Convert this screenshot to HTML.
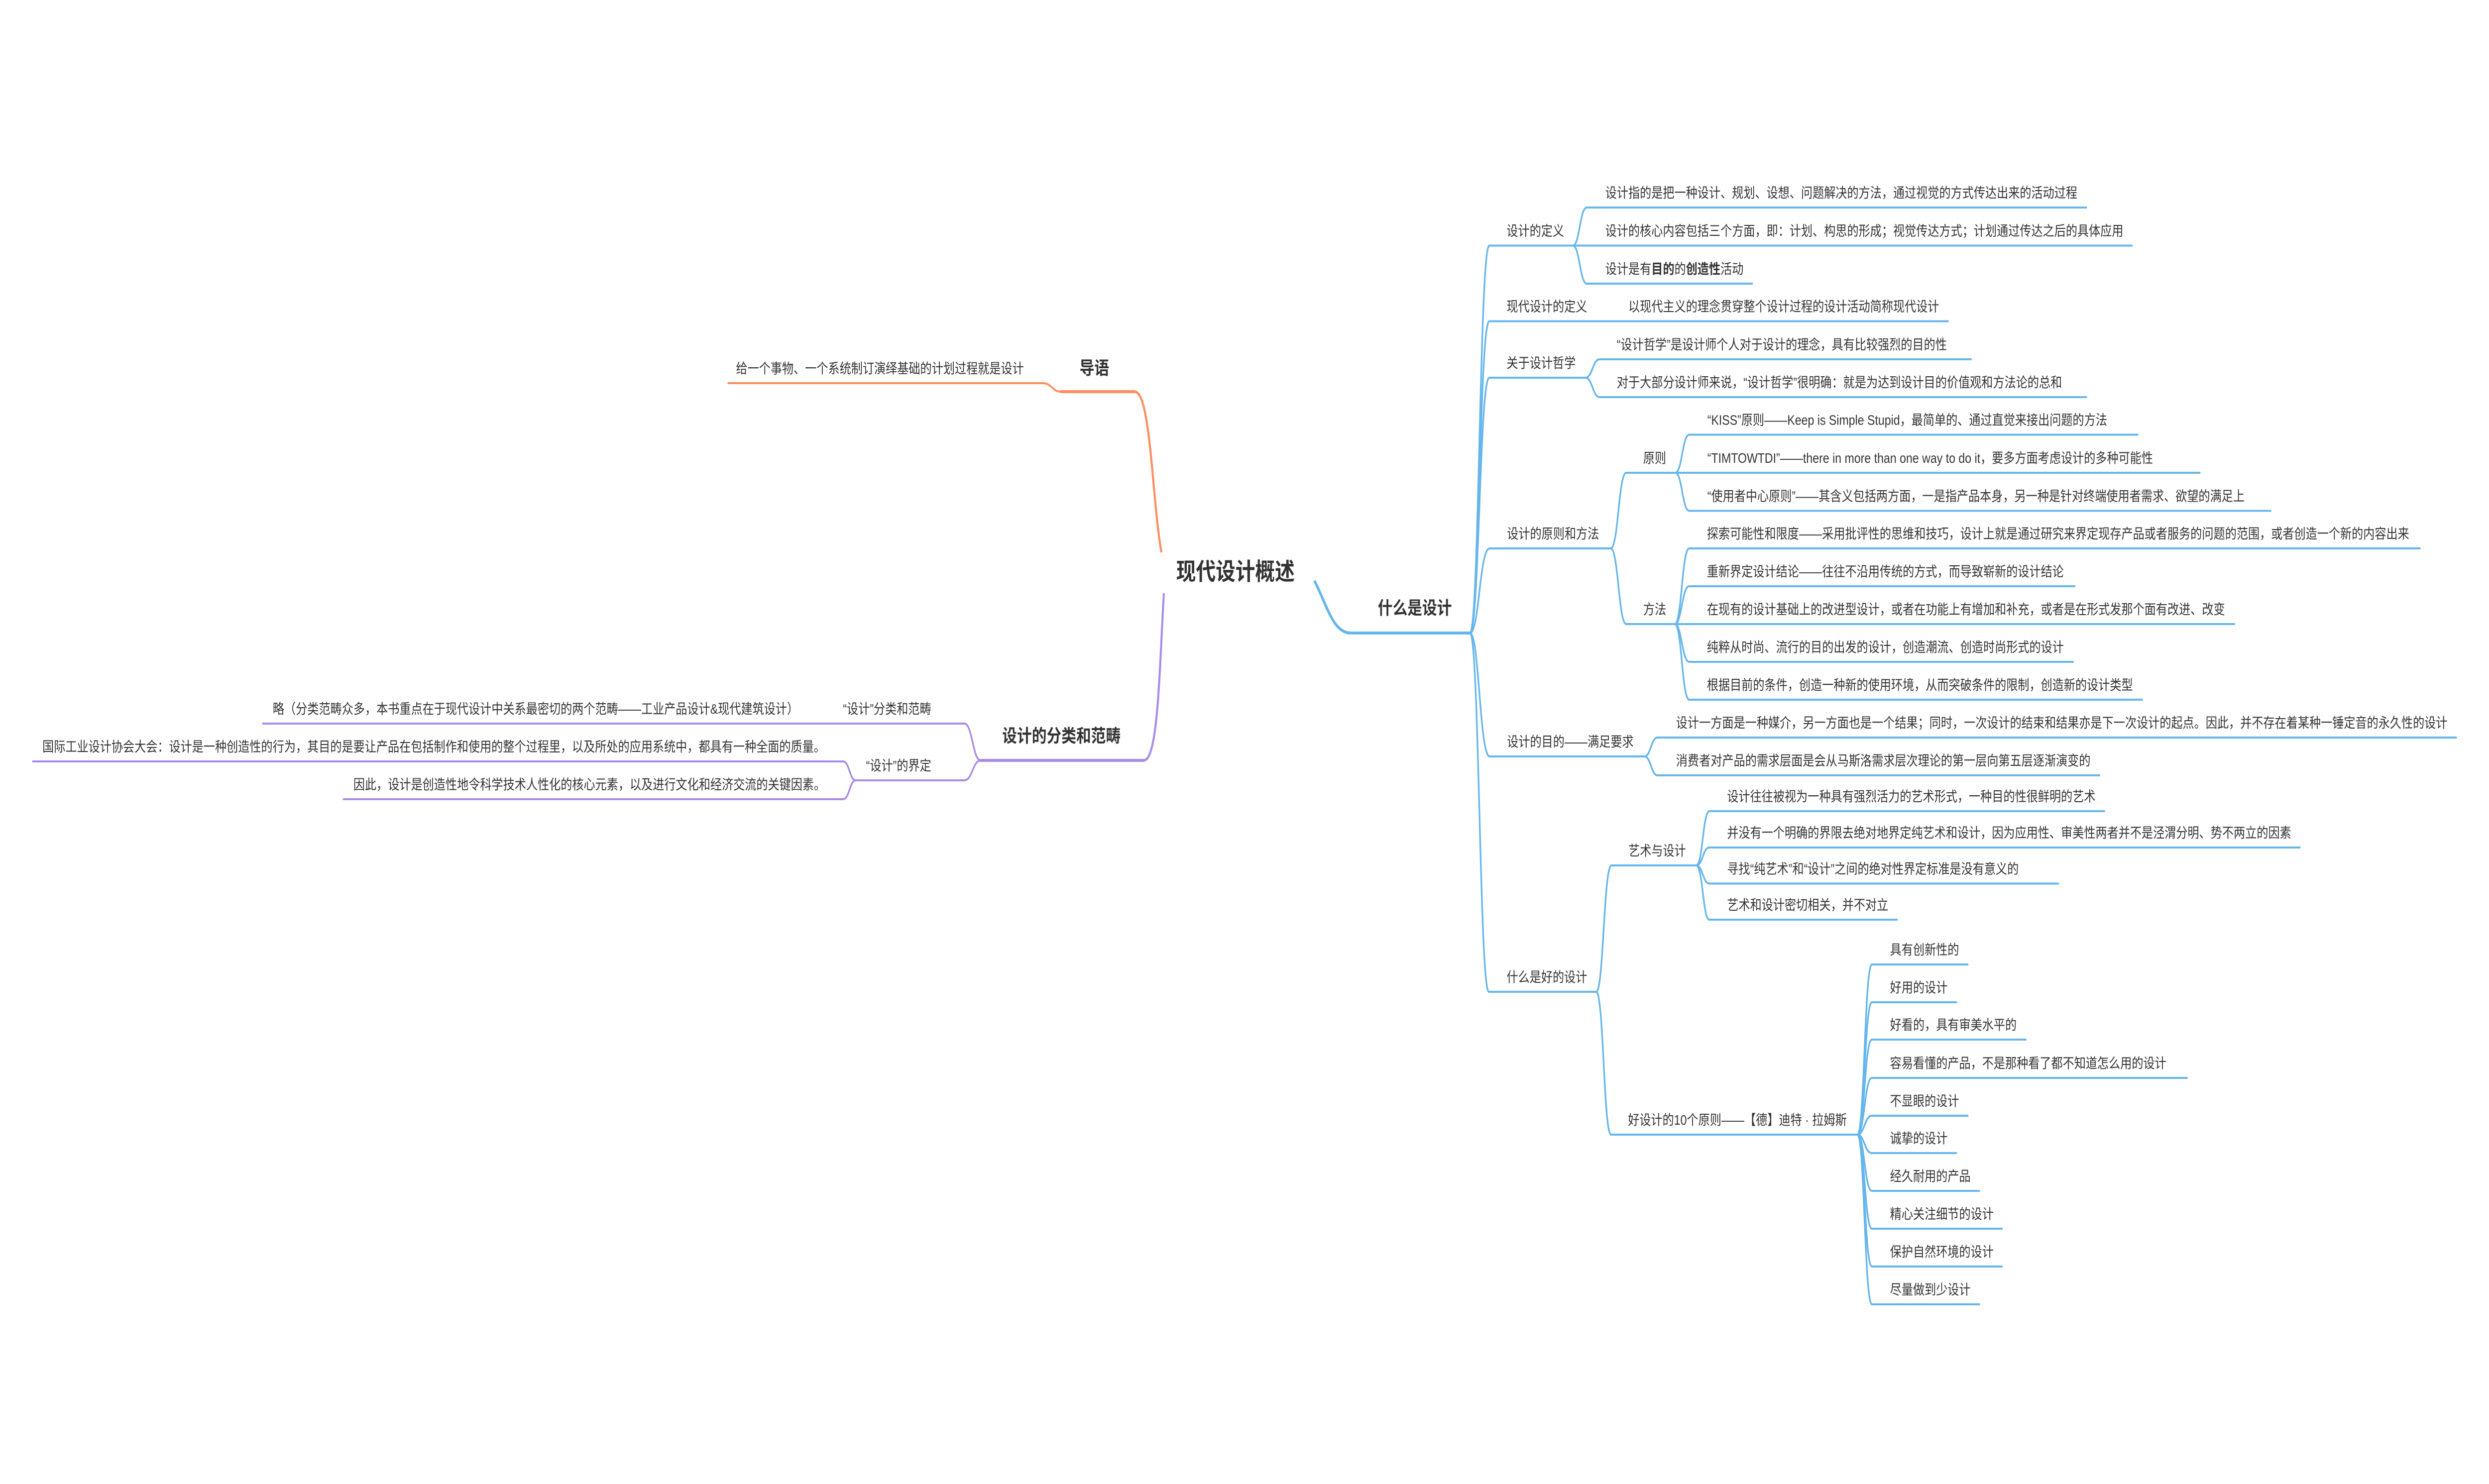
<!DOCTYPE html>
<html lang="zh"><head><meta charset="utf-8"><title>现代设计概述</title>
<style>
html,body{margin:0;padding:0;background:#fff;width:100%;height:100%;overflow:hidden;}
svg{display:block;position:absolute;left:0;top:0;width:100vw;height:100vh;}
text{font-family:"Liberation Sans","Noto Sans CJK SC",sans-serif;font-size:28px;fill:#333;}
.b{font-weight:700;font-size:36px;}
.r{font-weight:700;font-size:48px;}
tspan.s{font-weight:700;}
path{fill:none;stroke-linecap:round;stroke-width:4;}
.bl path{stroke:#66b6ec;}
.or path{stroke:#ff8c5e;}
.pu path{stroke:#a98bea;}
</style></head><body>
<svg xmlns="http://www.w3.org/2000/svg" viewBox="0 0 6050 2982" preserveAspectRatio="none">
<rect width="6050" height="2982" fill="#fff"/>

<g class="or">
<path style="stroke-width:5;stroke-linecap:butt" d="M2823 1110C2800 1000 2797 787 2758 787"/>
<path style="stroke-width:6" d="M2758 787H2579"/>
<path d="M2579 787C2557 787 2557 770 2535 770H1770"/>
</g>
<g class="pu">
<path style="stroke-width:5;stroke-linecap:butt" d="M2829 1192C2818 1350 2815 1528 2780 1528"/>
<path style="stroke-width:6" d="M2780 1528H2384"/>
<path d="M2384 1528C2364 1528 2364 1454 2344 1454H639"/>
<path d="M2384 1528C2364 1528 2364 1568 2344 1568H2080"/>
<path d="M2080 1568C2065 1568 2065 1530 2049 1530H80"/>
<path d="M2080 1568C2065 1568 2065 1606 2049 1606H835"/>
</g>
<g class="bl">
<path style="stroke-width:6;stroke-linecap:butt" d="M3195 1167C3225 1215 3240 1272 3283 1272H3573"/>
<path d="M3573 1272C3596 1272 3596 493.5 3620 493.5H3823"/>
<path d="M3573 1272C3596 1272 3596 645.5 3620 645.5H4735"/>
<path d="M3573 1272C3596 1272 3596 759 3620 759H3854"/>
<path d="M3573 1272C3596 1272 3596 1102 3621 1102H3915"/>
<path d="M3573 1272C3596 1272 3596 1520 3621 1520H3997"/>
<path d="M3573 1272C3596 1272 3596 1993 3619 1993H3880"/>

<path d="M3823 493.5C3840 493.5 3840 417 3857 417H5071"/>
<path d="M3823 493.5H5182"/>
<path d="M3823 493.5C3840 493.5 3840 570 3857 570H4259"/>

<path d="M3854 759C3871 759 3871 722 3888 722H4791"/>
<path d="M3854 759C3871 759 3871 798 3888 798H5071"/>

<path d="M3915 1102C3934 1102 3934 950 3953 950H4072"/>
<path d="M3915 1102C3934 1102 3934 1254 3953 1254H4071"/>
<path d="M4072 950C4089 950 4089 873.5 4106 873.5H5196"/>
<path d="M4072 950H5347"/>
<path d="M4072 950C4089 950 4089 1026.5 4106 1026.5H5519"/>
<path d="M4071 1254C4088 1254 4088 1102 4106 1102H5882"/>
<path d="M4071 1254C4088 1254 4088 1178 4106 1178H5043"/>
<path d="M4071 1254H5431"/>
<path d="M4071 1254C4088 1254 4088 1330 4106 1330H5039"/>
<path d="M4071 1254C4088 1254 4088 1406 4106 1406H5207"/>

<path d="M3997 1520C4013 1520 4013 1482 4029 1482H5970"/>
<path d="M3997 1520C4013 1520 4013 1558 4029 1558H5103"/>

<path d="M3880 1993C3898 1993 3898 1739 3917 1739H4123"/>
<path d="M3880 1993C3898 1993 3898 2280 3916 2280H4515"/>
<path d="M4123 1739C4139 1739 4139 1630 4155 1630H5115"/>
<path d="M4123 1739C4139 1739 4139 1703 4155 1703H5590"/>
<path d="M4123 1739C4139 1739 4139 1775.5 4155 1775.5H5003"/>
<path d="M4123 1739C4139 1739 4139 1848 4155 1848H4611"/>

<path d="M4515 2280C4532 2280 4532 1938 4550 1938H4783"/>
<path d="M4515 2280C4532 2280 4532 2014 4550 2014H4755"/>
<path d="M4515 2280C4532 2280 4532 2089 4550 2089H4924"/>
<path d="M4515 2280C4532 2280 4532 2166 4550 2166H5316"/>
<path d="M4515 2280C4532 2280 4532 2242 4550 2242H4783"/>
<path d="M4515 2280C4532 2280 4532 2317 4550 2317H4755"/>
<path d="M4515 2280C4532 2280 4532 2393 4550 2393H4811"/>
<path d="M4515 2280C4532 2280 4532 2469 4550 2469H4866"/>
<path d="M4515 2280C4532 2280 4532 2545 4550 2545H4866"/>
<path d="M4515 2280C4532 2280 4532 2621 4550 2621H4811"/>
</g>

<text class="r" x="2859" y="1165">现代设计概述</text>
<text class="b" x="2624" y="752">导语</text>
<text class="b" x="2436" y="1491">设计的分类和范畴</text>
<text class="b" x="3349" y="1234">什么是设计</text>

<text x="1789" y="750">给一个事物、一个系统制订演绎基础的计划过程就是设计</text>
<text x="2049" y="1434">“设计”分类和范畴</text>
<text x="663" y="1434">略（分类范畴众多，本书重点在于现代设计中关系最密切的两个范畴——工业产品设计&amp;现代建筑设计）</text>
<text x="2105" y="1548">“设计”的界定</text>
<text x="103" y="1510">国际工业设计协会大会：设计是一种创造性的行为，其目的是要让产品在包括制作和使用的整个过程里，以及所处的应用系统中，都具有一种全面的质量。</text>
<text x="859" y="1586">因此，设计是创造性地令科学技术人性化的核心元素，以及进行文化和经济交流的关键因素。</text>

<text x="3662" y="473.5">设计的定义</text>
<text x="3902" y="397">设计指的是把一种设计、规划、设想、问题解决的方法，通过视觉的方式传达出来的活动过程</text>
<text x="3902" y="473.5">设计的核心内容包括三个方面，即：计划、构思的形成；视觉传达方式；计划通过传达之后的具体应用</text>
<text x="3902" y="550">设计是有<tspan class="s">目的</tspan>的<tspan class="s">创造性</tspan>活动</text>

<text x="3662" y="625.5">现代设计的定义</text>
<text x="3958" y="625.5">以现代主义的理念贯穿整个设计过程的设计活动简称现代设计</text>

<text x="3662" y="739">关于设计哲学</text>
<text x="3930" y="702">“设计哲学”是设计师个人对于设计的理念，具有比较强烈的目的性</text>
<text x="3930" y="778">对于大部分设计师来说，“设计哲学”很明确：就是为达到设计目的价值观和方法论的总和</text>

<text x="3663" y="1082">设计的原则和方法</text>
<text x="3994" y="930">原则</text>
<text x="4150" y="853.5">“KISS”原则——Keep is Simple Stupid，最简单的、通过直觉来接出问题的方法</text>
<text x="4150" y="930">“TIMTOWTDI”——there in more than one way to do it，要多方面考虑设计的多种可能性</text>
<text x="4150" y="1006.5">“使用者中心原则”——其含义包括两方面，一是指产品本身，另一种是针对终端使用者需求、欲望的满足上</text>
<text x="3994" y="1234">方法</text>
<text x="4149" y="1082">探索可能性和限度——采用批评性的思维和技巧，设计上就是通过研究来界定现存产品或者服务的问题的范围，或者创造一个新的内容出来</text>
<text x="4149" y="1158">重新界定设计结论——往往不沿用传统的方式，而导致崭新的设计结论</text>
<text x="4149" y="1234">在现有的设计基础上的改进型设计，或者在功能上有增加和补充，或者是在形式发那个面有改进、改变</text>
<text x="4149" y="1310">纯粹从时尚、流行的目的出发的设计，创造潮流、创造时尚形式的设计</text>
<text x="4149" y="1386">根据目前的条件，创造一种新的使用环境，从而突破条件的限制，创造新的设计类型</text>

<text x="3663" y="1500">设计的目的——满足要求</text>
<text x="4074" y="1462">设计一方面是一种媒介，另一方面也是一个结果；同时，一次设计的结束和结果亦是下一次设计的起点。因此，并不存在着某种一锤定音的永久性的设计</text>
<text x="4074" y="1538">消费者对产品的需求层面是会从马斯洛需求层次理论的第一层向第五层逐渐演变的</text>

<text x="3662" y="1973">什么是好的设计</text>
<text x="3958" y="1719">艺术与设计</text>
<text x="4198" y="1610">设计往往被视为一种具有强烈活力的艺术形式，一种目的性很鲜明的艺术</text>
<text x="4198" y="1683">并没有一个明确的界限去绝对地界定纯艺术和设计，因为应用性、审美性两者并不是泾渭分明、势不两立的因素</text>
<text x="4198" y="1755.5">寻找“纯艺术”和“设计”之间的绝对性界定标准是没有意义的</text>
<text x="4198" y="1828">艺术和设计密切相关，并不对立</text>

<text x="3957" y="2260">好设计的10个原则——【德】迪特 · 拉姆斯</text>
<text x="4594" y="1918">具有创新性的</text>
<text x="4594" y="1994">好用的设计</text>
<text x="4594" y="2069">好看的，具有审美水平的</text>
<text x="4594" y="2146">容易看懂的产品，不是那种看了都不知道怎么用的设计</text>
<text x="4594" y="2222">不显眼的设计</text>
<text x="4594" y="2297">诚挚的设计</text>
<text x="4594" y="2373">经久耐用的产品</text>
<text x="4594" y="2449">精心关注细节的设计</text>
<text x="4594" y="2525">保护自然环境的设计</text>
<text x="4594" y="2601">尽量做到少设计</text>
</svg>
</body></html>
